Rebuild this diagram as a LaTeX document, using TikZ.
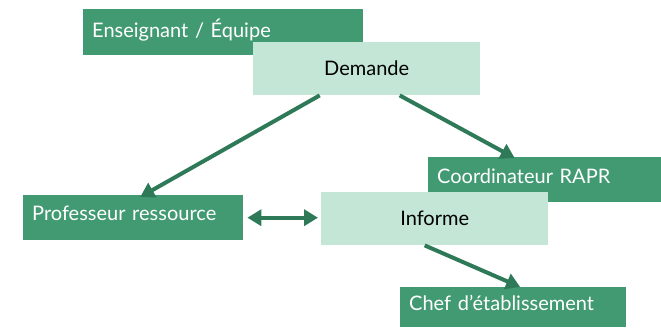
\documentclass[tikz,border=0pt]{standalone}
\usepackage{fontspec}
\setmainfont{Lato}
\usetikzlibrary{arrows.meta}

\definecolor{vert}{RGB}{66,154,114}
\definecolor{vertclair}{RGB}{195,230,214}
\definecolor{vertfonce}{RGB}{46,122,88}

\begin{document}
\begin{tikzpicture}[x=1pt, y=-1pt,
		acteur/.style={fill=vert, text=white, anchor=north west, align=left,
			inner xsep=9pt, inner ysep=0pt, text depth=8pt, font=\fontsize{20}{24}\selectfont},
		action/.style={fill=vertclair, text=black, anchor=north west, align=center,
			inner sep=0pt, minimum width=227pt, minimum height=53pt,
			font=\fontsize{20}{24}\selectfont},
		fleche/.style={draw=vertfonce, line width=4pt,
			-{Triangle[length=14pt, width=16pt]}}]
		\useasboundingbox (0, 0) rectangle (661, 327);

		% acteurs
		\node[acteur, text width=262pt, minimum height=46pt] (ens) at (83, 9) {Enseignant / Équipe};
		\node[acteur, text width=215pt, minimum height=45pt] (coord) at (428, 157) {Coordinateur RAPR};
		\node[acteur, text width=202pt, minimum height=45pt] (prof) at (23, 195) {Professeur ressource};
		\node[acteur, text width=208pt, minimum height=40pt] (chef) at (400, 287) {Chef d’établissement};

		% actions
		\node[action] (demande) at (253, 42) {Demande};
		\node[action] (informe) at (321, 192) {Informe};

		% flèches
		\draw[fleche] ([xshift=-47pt]demande.south) -- ([xshift=7pt, yshift=-2pt]prof.north);
		\draw[fleche] ([xshift=33pt]demande.south) -- ([xshift=-30pt, yshift=-1pt]coord.north);
		\draw[fleche, {Triangle[length=14pt, width=16pt]}-{Triangle[length=14pt, width=16pt]},
			shorten <=4pt, shorten >=3pt] (prof.east) -- (prof.east -| informe.west);
		\draw[fleche] ([xshift=-10pt]informe.south) -- ([xshift=7pt]chef.north);
	\end{tikzpicture}
\end{document}
